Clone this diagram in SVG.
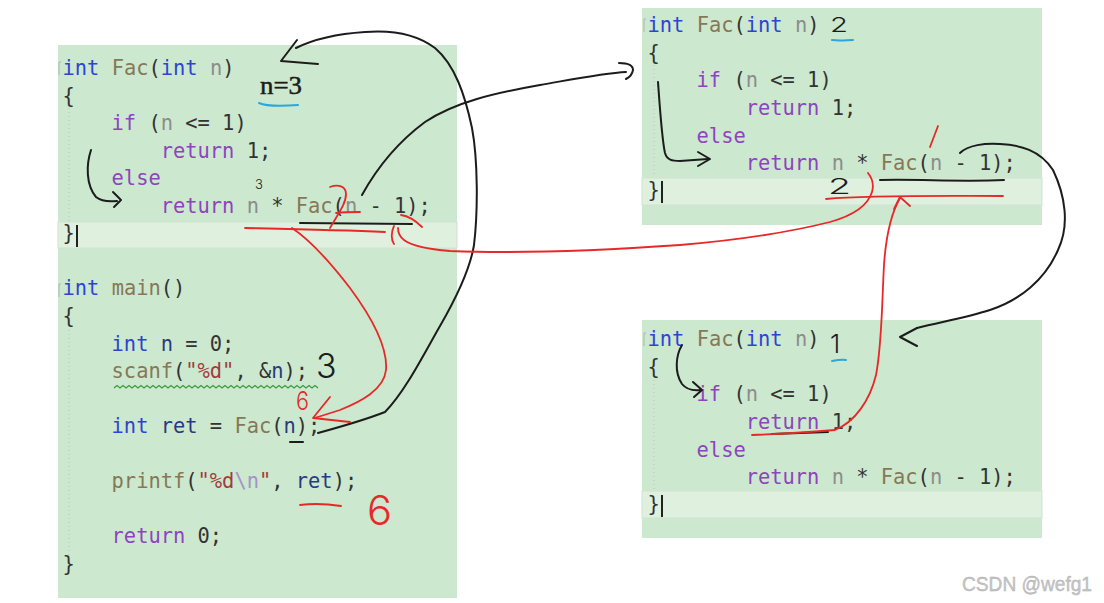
<svg xmlns="http://www.w3.org/2000/svg" width="1104" height="603" viewBox="0 0 1104 603">
<style>
.bg{fill:#cce8cf}
.hl{fill:#dff0df;stroke:#d2e2d2;stroke-width:1}
.c{font-family:"DejaVu Sans Mono","Liberation Mono",monospace;font-size:20.4px;fill:#333}
.k{fill:#2c44d4}.f{fill:#857856}.m{fill:#8c8c8c}.t{fill:#8e44bd}.s{fill:#a33b3b}.e{fill:#a592c9}.v{fill:#2a3a80}
.cur{stroke:#222;stroke-width:2}
.fold{fill:none;stroke:#a8b8a8;stroke-width:1}
.guide{stroke:#b4c8b4;stroke-width:1;stroke-dasharray:1 3}
.bk{fill:none;stroke:#1c1c1c;stroke-width:2;stroke-linecap:round;stroke-linejoin:round}
.rd{fill:none;stroke:#e82828;stroke-width:1.8;stroke-linecap:round;stroke-linejoin:round}
.cy{fill:none;stroke:#2aa6e0;stroke-width:2;stroke-linecap:round}
.sq{fill:none;stroke:#3a9a3a;stroke-width:1.2}
.hw{font-family:Inter,"Liberation Sans",sans-serif;font-weight:300}
.wm{font-family:"Liberation Sans",Arial,sans-serif;font-size:21px;fill:#c6c6c6;stroke:#adadad;stroke-width:0.4}
</style>
<rect width="1104" height="603" fill="#ffffff"/>

<g id="panel-main">
<rect class="bg" x="58" y="45" width="399" height="553"/>
<rect class="hl" x="58" y="222" width="399" height="26"/>
<path class="fold" d="M61,62 L59,62 L59,75"/>
<path class="fold" d="M61,284 L59,284 L59,297"/>
<line class="guide" x1="69" y1="108" x2="69" y2="222"/>
<line class="guide" x1="69" y1="330" x2="69" y2="556"/>
<text class="c" x="62.5" y="75" xml:space="preserve"><tspan class="k">int</tspan> <tspan class="f">Fac</tspan>(<tspan class="k">int</tspan> <tspan class="m">n</tspan>)</text>
<text class="c" x="62.5" y="102.5">{</text>
<text class="c" x="111.6" y="130" xml:space="preserve"><tspan class="t">if</tspan> (<tspan class="m">n</tspan> &lt;= 1)</text>
<text class="c" x="160.7" y="157.6" xml:space="preserve"><tspan class="t">return</tspan> 1;</text>
<text class="c" x="111.6" y="185.2"><tspan class="t">else</tspan></text>
<text class="c" x="160.7" y="212.7" xml:space="preserve"><tspan class="t">return</tspan> <tspan class="m">n</tspan> * <tspan class="f">Fac</tspan>(<tspan class="m">n</tspan> - 1);</text>
<text class="c" x="62.5" y="240.3">}</text>
<line class="cur" x1="77" y1="225" x2="77" y2="247"/>
<text class="c" x="62.5" y="295.4" xml:space="preserve"><tspan class="k">int</tspan> <tspan class="f">main</tspan>()</text>
<text class="c" x="62.5" y="323">{</text>
<text class="c" x="111.6" y="350.5" xml:space="preserve"><tspan class="k">int</tspan> <tspan class="v">n</tspan> = 0;</text>
<text class="c" x="111.6" y="378" xml:space="preserve"><tspan class="f">scanf</tspan>(<tspan class="s">"%d"</tspan>, &amp;<tspan class="v">n</tspan>);</text>
<path class="sq" d="M114,388 l3,-2.4 l3,2.4 l3,-2.4 l3,2.4 l3,-2.4 l3,2.4 l3,-2.4 l3,2.4 l3,-2.4 l3,2.4 l3,-2.4 l3,2.4 l3,-2.4 l3,2.4 l3,-2.4 l3,2.4 l3,-2.4 l3,2.4 l3,-2.4 l3,2.4 l3,-2.4 l3,2.4 l3,-2.4 l3,2.4 l3,-2.4 l3,2.4 l3,-2.4 l3,2.4 l3,-2.4 l3,2.4 l3,-2.4 l3,2.4 l3,-2.4 l3,2.4 l3,-2.4 l3,2.4 l3,-2.4 l3,2.4 l3,-2.4 l3,2.4 l3,-2.4 l3,2.4 l3,-2.4 l3,2.4 l3,-2.4 l3,2.4 l3,-2.4 l3,2.4 l3,-2.4 l3,2.4 l3,-2.4 l3,2.4 l3,-2.4 l3,2.4 l3,-2.4 l3,2.4 l3,-2.4 l3,2.4 l3,-2.4 l3,2.4 l3,-2.4 l3,2.4 l3,-2.4 l3,2.4 l3,-2.4 l3,2.4 l3,-2.4 l3,2.4"/>
<text class="c" x="111.6" y="433" xml:space="preserve"><tspan class="k">int</tspan> <tspan class="v">ret</tspan> = <tspan class="f">Fac</tspan>(<tspan class="v">n</tspan>);</text>
<text class="c" x="111.6" y="488.2" xml:space="preserve"><tspan class="f">printf</tspan>(<tspan class="s">"%d</tspan><tspan class="e">\n</tspan><tspan class="s">"</tspan>, <tspan class="v">ret</tspan>);</text>
<text class="c" x="111.6" y="543.3" xml:space="preserve"><tspan class="t">return</tspan> 0;</text>
<text class="c" x="62.5" y="570.9">}</text>
</g>

<g id="panel-fac2">
<rect class="bg" x="642" y="8" width="400" height="217"/>
<rect class="hl" x="642" y="178" width="400" height="27"/>
<path class="fold" d="M646,19 L644,19 L644,32"/>
<line class="guide" x1="654" y1="65" x2="654" y2="177"/>
<text class="c" x="647.5" y="32" xml:space="preserve"><tspan class="k">int</tspan> <tspan class="f">Fac</tspan>(<tspan class="k">int</tspan> <tspan class="m">n</tspan>)</text>
<text class="c" x="647.5" y="59.7">{</text>
<text class="c" x="696.6" y="87.4" xml:space="preserve"><tspan class="t">if</tspan> (<tspan class="m">n</tspan> &lt;= 1)</text>
<text class="c" x="745.7" y="115" xml:space="preserve"><tspan class="t">return</tspan> 1;</text>
<text class="c" x="696.6" y="142.7"><tspan class="t">else</tspan></text>
<text class="c" x="745.7" y="170.4" xml:space="preserve"><tspan class="t">return</tspan> <tspan class="m">n</tspan> * <tspan class="f">Fac</tspan>(<tspan class="m">n</tspan> - 1);</text>
<text class="c" x="647.5" y="197">}</text>
<line class="cur" x1="662" y1="181" x2="662" y2="203"/>
</g>

<g id="panel-fac1">
<rect class="bg" x="642" y="320" width="400" height="218"/>
<rect class="hl" x="642" y="491" width="400" height="27"/>
<path class="fold" d="M646,333 L644,333 L644,346"/>
<line class="guide" x1="654" y1="380" x2="654" y2="490"/>
<text class="c" x="647.5" y="346" xml:space="preserve"><tspan class="k">int</tspan> <tspan class="f">Fac</tspan>(<tspan class="k">int</tspan> <tspan class="m">n</tspan>)</text>
<text class="c" x="647.5" y="373.7">{</text>
<text class="c" x="696.6" y="401.4" xml:space="preserve"><tspan class="t">if</tspan> (<tspan class="m">n</tspan> &lt;= 1)</text>
<text class="c" x="745.7" y="429" xml:space="preserve"><tspan class="t">return</tspan> 1;</text>
<text class="c" x="696.6" y="456.7"><tspan class="t">else</tspan></text>
<text class="c" x="745.7" y="484.4" xml:space="preserve"><tspan class="t">return</tspan> <tspan class="m">n</tspan> * <tspan class="f">Fac</tspan>(<tspan class="m">n</tspan> - 1);</text>
<text class="c" x="647.5" y="511">}</text>
<line class="cur" x1="662" y1="495" x2="662" y2="517"/>
</g>

<g id="annotations">
<text x="260" y="94" font-family="Liberation Serif,serif" font-size="26" fill="#1c1c1c" stroke="#1c1c1c" stroke-width="0.5" textLength="42" lengthAdjust="spacingAndGlyphs">n=3</text>
<text class="hw" x="255" y="189" font-size="13" font-weight="600" fill="#1c1c1c">3</text>
<text class="hw" x="316" y="378" font-size="34" fill="#1c1c1c">3</text>
<text class="hw" x="830" y="32" font-size="20" fill="#1c1c1c" textLength="18" lengthAdjust="spacingAndGlyphs">2</text>
<text class="hw" x="828" y="194" font-size="22" fill="#1c1c1c" textLength="23" lengthAdjust="spacingAndGlyphs">2</text>
<text class="hw" x="830" y="353" font-size="26" fill="#1c1c1c">1</text>
<text class="hw" x="296" y="410" font-size="26" fill="#e82828" textLength="13" lengthAdjust="spacingAndGlyphs">6</text>
<text class="hw" x="367" y="525" font-size="41" fill="#e82828" textLength="25" lengthAdjust="spacingAndGlyphs">6</text>
</g>

<g id="connectors">
<!-- black strokes -->
<path class="bk" d="M318,433 C340,427 362,421 385,412 C405,392 425,352 440,326 C455,300 470,270 474,245 C478,212 478,160 472,128 C465,95 455,65 435,48 C415,33 390,30 365,32 C335,34 312,40 296,48"/>
<path class="bk" d="M297,40 L281,61 L318,64"/>
<path class="bk" d="M362,195 C378,166 398,142 425,122 C455,102 495,93 540,85 C580,78 605,73 626,72"/>
<path class="bk" d="M619,63 Q633,63 633,70 Q632,76 626,79"/>
<path class="bk" d="M91,150 C86,165 86,185 96,197 C101,201 108,202 117,201"/>
<path class="bk" d="M113,192 L121,200 L114,207"/>
<path class="bk" d="M658,82 C660,110 662,140 665,153 C667,160 672,161 680,161 L708,159"/>
<path class="bk" d="M698,152 L710,159 L698,166"/>
<path class="bk" d="M960,153 C968,145 985,143 1000,144 C1020,145 1040,150 1053,170 C1065,195 1070,225 1058,250 C1045,280 1020,300 990,310 C965,318 940,322 917,328"/>
<path class="bk" d="M917,328 L900,337 L917,346"/>
<path class="bk" d="M682,345 C676,355 674,372 682,384 C686,389 693,391 701,390"/>
<path class="bk" d="M693,382 L702,390 L694,397"/>
<path class="bk" d="M880,180 C920,179 960,182 1004,180"/>
<path class="bk" d="M300,223 L412,224"/>
<path class="bk" d="M290,442 L303,442"/>
<path class="bk" d="M772,434 L828,432"/>
<!-- red strokes -->
<path class="rd" d="M245,228 C290,229 340,230 385,232"/>
<path class="rd" d="M330,187 C338,184 346,186 346,194 C346,204 338,214 330,228 M336,213 C344,212 352,212 360,212"/>
<path class="rd" d="M398,228 C398,233 400,237 404,240 C412,246 425,249 450,251 C500,253 580,252 680,245 C740,240 790,232 830,222 C855,215 868,205 872,192 C874,185 872,178 868,173"/>
<path class="rd" d="M394,226 C391,232 391,240 394,244"/>
<path class="rd" d="M401,215 C408,216 415,220 422,227"/>
<path class="rd" d="M292,228 C310,240 330,262 350,288 C370,315 388,345 386,370 C384,390 360,402 340,410 C330,413 322,416 314,418"/>
<path class="rd" d="M330,397 L313,418 L350,422"/>
<path class="rd" d="M300,505 C315,503 328,504 341,506"/>
<path class="rd" d="M826,199 C870,195 940,196 1003,196"/>
<path class="rd" d="M752,435 C780,434 810,432 835,430 C855,422 870,400 876,375 C882,345 882,300 884,265 C886,235 892,212 900,198"/>
<path class="rd" d="M894,209 L900,197 L910,206"/>
<path class="rd" d="M938,126 L930,147"/>
<!-- cyan underlines -->
<path class="cy" d="M259,103 C268,107 285,106 298,105"/>
<path class="cy" d="M832,40 C840,41 847,40 853,40"/>
<path class="cy" d="M832,361 C837,360 842,359 846,360"/>
</g>

<text class="wm" x="962" y="591" textLength="130" lengthAdjust="spacingAndGlyphs">CSDN @wefg1</text>
</svg>
